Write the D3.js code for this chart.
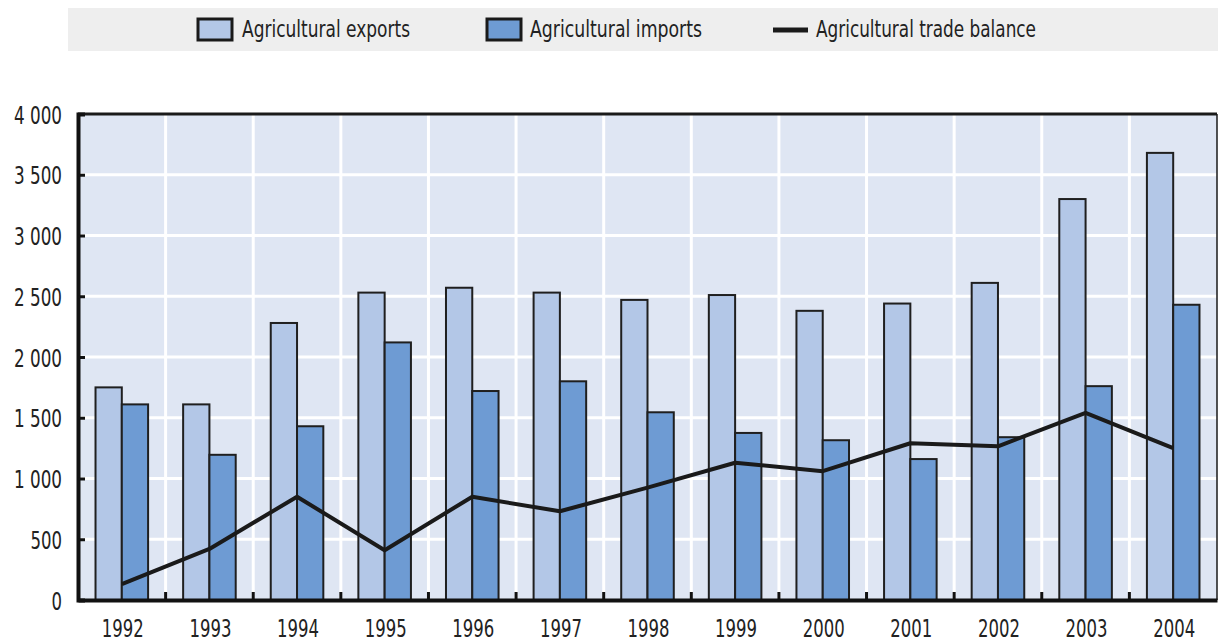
<!DOCTYPE html>
<html><head><meta charset="utf-8">
<script src="https://cdn.jsdelivr.net/npm/d3@7"></script>
<style>
body{margin:0;background:#fff;}
text{font-family:"Liberation Sans Narrow","DejaVu Sans Condensed","Arial Narrow",sans-serif;fill:#222;}
</style></head>
<body>
<svg id="chart" width="1218" height="643"></svg>
<script>
const years = ["1992","1993","1994","1995","1996","1997","1998","1999","2000","2001","2002","2003","2004"];
const exportsVals = [1750,1610,2280,2530,2570,2530,2470,2510,2380,2440,2610,3300,3680];
const importsVals = [1610,1195,1430,2120,1720,1800,1545,1375,1315,1160,1340,1760,2430];
const balanceVals = [130,420,850,410,850,730,925,1130,1060,1290,1265,1540,1250];
const yTicks = [0,500,1000,1500,2000,2500,3000,3500,4000];
const yTickLabels = ["0","500","1 000","1 500","2 000","2 500","3 000","3 500","4 000"];
const legendLabels = ["Agricultural exports","Agricultural imports","Agricultural trade balance"];

const colExp = "#b3c7e7", colImp = "#6e9bd3", bg = "#dfe6f3";
const svg = d3.select("#chart");
const m = {left:78, right:1217, top:114, bottom:600};

const x = d3.scaleBand().domain(years).range([m.left, m.right]).paddingInner(0).paddingOuter(0);
const y = d3.scaleLinear().domain([0,4000]).range([m.bottom, m.top]);
const bw = x.bandwidth()*0.3;

// width of condensed digits-based labels
const labelWidth = s => s.split("").reduce((a,c)=>a+(c===" "?6:10.5),0);

// legend band
svg.append("rect").attr("x",68).attr("y",8).attr("width",1150).attr("height",43).attr("fill","#eeeeee");
const leg = svg.append("g");
const legItems = [
  {type:"rect", fill:colExp, sx:198, tx:242, w:168},
  {type:"rect", fill:colImp, sx:487, tx:530, w:172},
  {type:"line", sx:773, tx:816, w:220}
];
legItems.forEach((d,i)=>{
  if(d.type==="rect"){
    leg.append("rect").attr("x",d.sx).attr("y",19).attr("width",34).attr("height",21)
      .attr("fill",d.fill).attr("stroke","#1a1a1a").attr("stroke-width",3);
  } else {
    leg.append("line").attr("x1",d.sx).attr("x2",d.sx+35).attr("y1",30).attr("y2",30)
      .attr("stroke","#1a1a1a").attr("stroke-width",5);
  }
  leg.append("text").attr("x",d.tx).attr("y",37).attr("font-size",23)
    .attr("textLength",d.w).attr("lengthAdjust","spacingAndGlyphs").text(legendLabels[i]);
});

// plot background
svg.append("rect").attr("x",m.left).attr("y",m.top).attr("width",m.right-m.left).attr("height",m.bottom-m.top).attr("fill",bg);

// horizontal grid
svg.append("g").selectAll("line").data(yTicks.filter(v=>v>0&&v<4000)).join("line")
  .attr("x1",m.left).attr("x2",m.right).attr("y1",d=>y(d)).attr("y2",d=>y(d))
  .attr("stroke","#ffffff").attr("stroke-width",3);
// vertical grid
svg.append("g").selectAll("line").data(years.slice(1)).join("line")
  .attr("x1",d=>x(d)).attr("x2",d=>x(d)).attr("y1",m.top).attr("y2",m.bottom)
  .attr("stroke","#ffffff").attr("stroke-width",3);

// bars
const bars = svg.append("g");
bars.selectAll("rect.exp").data(years).join("rect").attr("class","exp")
  .attr("x",d=>x(d)+x.bandwidth()/2-bw).attr("width",bw)
  .attr("y",(d,i)=>y(exportsVals[i])).attr("height",(d,i)=>y(0)-y(exportsVals[i]))
  .attr("fill",colExp).attr("stroke","#1f1f1f").attr("stroke-width",2);
bars.selectAll("rect.imp").data(years).join("rect").attr("class","imp")
  .attr("x",d=>x(d)+x.bandwidth()/2).attr("width",bw)
  .attr("y",(d,i)=>y(importsVals[i])).attr("height",(d,i)=>y(0)-y(importsVals[i]))
  .attr("fill",colImp).attr("stroke","#1f1f1f").attr("stroke-width",2);

// balance line
const line = d3.line().x((d,i)=>x(years[i])+x.bandwidth()/2).y(d=>y(d));
svg.append("path").datum(balanceVals).attr("d",line).attr("fill","none")
  .attr("stroke","#1a1a1a").attr("stroke-width",4).attr("stroke-linejoin","round");

// frame
svg.append("line").attr("x1",m.left).attr("x2",m.right).attr("y1",m.top).attr("y2",m.top).attr("stroke","#1a1a1a").attr("stroke-width",3);
svg.append("line").attr("x1",m.right).attr("x2",m.right).attr("y1",m.top).attr("y2",m.bottom).attr("stroke","#1a1a1a").attr("stroke-width",1.5);

// y axis
const yAxis = d3.axisLeft(y).tickValues(yTicks).tickFormat((d,i)=>yTickLabels[i]).tickSize(-7).tickPadding(16);
const ya = svg.append("g").attr("transform",`translate(${m.left},0)`).call(yAxis);
ya.select(".domain").attr("stroke","#111").attr("stroke-width",4);
ya.selectAll(".tick line").attr("stroke","#111").attr("stroke-width",3);
ya.selectAll(".tick text").attr("font-size",25).attr("dy","0.36em").attr("fill","#222")
  .attr("textLength",(d,i)=>labelWidth(yTickLabels[i])).attr("lengthAdjust","spacingAndGlyphs")
  .style("font-family",'"Liberation Sans Narrow","DejaVu Sans Condensed",sans-serif');

// x axis
const xAxis = d3.axisBottom(x).tickSize(0).tickPadding(20);
const xa = svg.append("g").attr("transform",`translate(0,${m.bottom})`).call(xAxis);
xa.select(".domain").attr("stroke","#111").attr("stroke-width",4);
xa.selectAll(".tick text").attr("font-size",25).attr("y",37).attr("dy","0").attr("dx","1").attr("fill","#222")
  .attr("textLength",42).attr("lengthAdjust","spacingAndGlyphs")
  .style("font-family",'"Liberation Sans Narrow","DejaVu Sans Condensed",sans-serif');
// boundary ticks
xa.append("g").selectAll("line").data(years.slice(1)).join("line")
  .attr("x1",d=>x(d)).attr("x2",d=>x(d)).attr("y1",0).attr("y2",-8)
  .attr("stroke","#111").attr("stroke-width",3);
</script>
</body></html>
